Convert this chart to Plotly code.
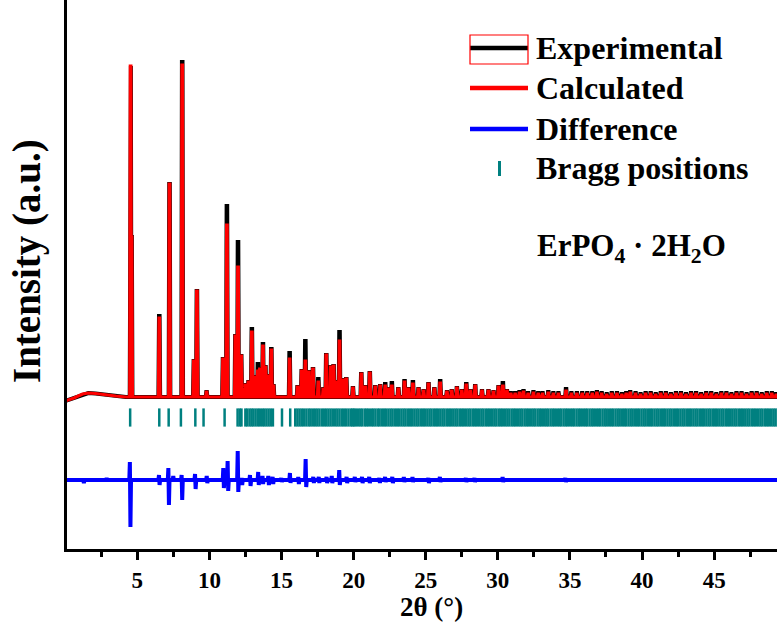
import plotly.graph_objects as go

# ---------------- data ----------------
# resolved reflections: 2theta (deg), observed and calculated heights above background (a.u.)
peak_pos = [4.53, 4.60, 6.52, 7.23, 8.11, 8.92, 9.13, 9.80, 10.94, 11.21, 11.80, 11.98, 12.20, 12.50,
            12.71, 12.94, 13.10, 13.36, 13.50, 13.71, 13.88, 14.05, 14.29, 14.44, 15.56, 16.11, 16.40,
            16.65, 16.90, 17.18, 17.55, 17.90, 18.10, 18.42, 18.61, 18.80, 19.02, 19.30, 19.49, 19.95,
            20.53, 20.80, 21.12, 21.50, 21.84, 22.19, 22.45, 22.65, 23.10, 23.53, 23.80, 24.11, 24.50,
            24.85, 25.19, 25.60, 26.00, 26.47, 26.80, 27.16, 27.50, 27.81, 28.10, 28.43, 28.90, 29.35,
            29.70, 30.05, 30.35, 30.63, 30.90, 31.20, 31.50, 31.78, 32.10, 32.47, 32.80, 33.10, 33.50,
            33.85, 34.20, 34.73, 35.10, 35.48, 35.85, 36.20, 36.55, 36.87, 37.20, 37.55, 37.90, 38.26,
            38.60, 38.90, 39.18, 39.55, 39.90, 40.25, 40.60, 40.95, 41.30, 41.65, 42.00, 42.35, 42.70,
            43.05, 43.40, 43.75, 44.10, 44.45, 44.80, 45.15, 45.50, 45.85, 46.20, 46.55, 46.90, 47.25,
            47.60, 47.95, 48.30, 48.65, 49.00, 49.30]
obs_height = [331, 160, 81, 213, 335, 36, 106, 5, 38, 191, 61, 155, 41, 12,
              15, 68, 20, 33, 28, 53, 30, 21, 48, 11, 44, 10, 26,
              56, 25, 28, 18, 8, 42, 30, 31, 15, 65, 17, 18, 9,
              23, 10, 24, 10, 11, 13, 8, 14, 8, 16, 8, 15, 8,
              6, 13, 8, 16, 5, 6, 9, 6, 13, 6, 11, 6, 6,
              5, 10, 14, 6, 4, 4, 5, 6, 4, 5, 4, 4, 5,
              4, 4, 8, 4, 4, 4, 4, 4, 5, 4, 3, 4, 4,
              3, 4, 5, 4, 3, 4, 4, 3, 4, 4, 3, 4, 4,
              3, 4, 4, 3, 4, 4, 3, 4, 4, 3, 4, 4, 3,
              4, 4, 3, 4, 4, 3]
calc_height = [331, 160, 79, 213, 332, 36, 106, 5, 38, 172, 61, 130, 41, 12,
               15, 65, 20, 26, 28, 51, 30, 21, 47, 11, 38, 10, 26,
               36, 25, 28, 15, 8, 42, 30, 31, 15, 56, 17, 18, 9,
               23, 10, 24, 10, 11, 11, 8, 11, 8, 15, 8, 13, 8,
               6, 13, 8, 14, 5, 6, 9, 6, 12, 6, 11, 6, 6,
               5, 10, 11, 6, 3, 3, 4, 5, 3, 4, 3, 3, 4,
               3, 3, 6, 3, 3, 3, 3, 3, 4, 3, 2, 3, 3,
               2, 3, 4, 3, 2, 3, 3, 2, 3, 3, 2, 3, 3,
               2, 3, 3, 2, 3, 3, 2, 3, 3, 2, 3, 3, 2,
               3, 3, 2, 3, 3, 2]

# low-angle background (2theta, a.u.)
bg_pos = [0.0, 0.6, 1.2, 1.6, 2.1, 2.8, 3.5, 4.2]
bg_val = [-4, -1, 3, 4, 3.5, 2, 1, 0]

# difference curve features: 2theta, upward and downward excursion (a.u.)
diff_pos = [1.27, 2.89, 4.50, 6.52, 7.17, 7.51, 8.09, 9.02, 9.83, 10.98, 11.28, 11.98, 12.25, 12.83,
            13.40, 13.70, 14.10, 14.40, 15.00, 15.60, 16.18, 16.69, 17.22, 17.60, 18.14, 18.50, 19.02,
            19.53, 20.10, 20.60, 21.10, 21.80, 22.20, 22.70, 23.50, 24.10, 25.20, 26.00, 27.80, 28.40,
            30.35, 34.70]
diff_up = [0, 2, 18, 5, 12, 4, 5, 6, 4, 12, 19, 29, 2, 5,
           8, 4, 4, 3, 2, 7, 3, 21, 3, 3, 3, 4, 10,
           3, 3, 3, 3, 2, 3, 3, 3, 3, 2, 3, 2, 2,
           3, 2]
diff_down = [3, 0, 47, 5, 25, 0, 20, 9, 3, 8, 11, 12, 5, 6,
             5, 4, 5, 4, 2, 3, 4, 7, 3, 3, 3, 3, 5,
             3, 2, 3, 3, 3, 2, 3, 2, 2, 3, 2, 2, 2,
             2, 2]

# Bragg reflection positions (2theta, deg)
bragg_pos = [4.50, 6.52, 7.17, 8.02, 9.02, 9.59, 11.05, 11.95, 12.10, 12.22, 12.49, 12.62, 12.78, 12.92,
             13.05, 13.20, 13.36, 13.50, 13.66, 13.80, 13.95, 14.10, 14.25, 14.40, 15.03, 15.60, 15.95,
             16.10, 16.25, 16.40, 16.55, 16.72, 16.88, 17.02, 17.18, 17.33, 17.48, 17.63, 17.80, 17.95,
             18.10, 18.25, 18.40, 18.55, 18.72, 18.87, 19.02, 19.18, 19.33, 19.48, 19.64, 19.80, 19.92,
             20.02, 20.15, 20.31, 20.46, 20.60, 20.77, 20.91, 21.05, 21.22, 21.36, 21.51, 21.67, 21.80,
             21.96, 22.11, 22.25, 22.41, 22.56, 22.70, 22.86, 23.01, 23.15, 23.31, 23.46, 23.60, 23.76,
             23.91, 24.05, 24.21, 24.36, 24.50, 24.66, 24.81, 24.95, 25.11, 25.26, 25.40, 25.56, 25.71,
             25.85, 26.01, 26.16, 26.30, 26.46, 26.61, 26.75, 26.91, 27.06, 27.20, 27.36, 27.51, 27.65,
             27.81, 27.96, 28.10, 28.26, 28.41, 28.55, 28.71, 28.86, 29.00, 29.16, 29.31, 29.45, 29.61,
             29.76, 29.90, 30.06, 30.21, 30.35, 30.51, 30.66, 30.80, 30.96, 31.11, 31.25, 31.41, 31.56,
             31.70, 31.86, 32.01, 32.15, 32.31, 32.46, 32.60, 32.76, 32.91, 33.05, 33.21, 33.36, 33.50,
             33.66, 33.81, 33.95, 34.11, 34.26, 34.40, 34.56, 34.71, 34.85, 35.01, 35.16, 35.30, 35.46,
             35.61, 35.75, 35.91, 36.06, 36.20, 36.36, 36.51, 36.65, 36.81, 36.96, 37.10, 37.26, 37.41,
             37.55, 37.71, 37.86, 38.00, 38.16, 38.31, 38.45, 38.61, 38.76, 38.90, 39.06, 39.21, 39.35,
             39.51, 39.66, 39.80, 39.96, 40.11, 40.25, 40.41, 40.56, 40.70, 40.86, 41.01, 41.15, 41.31,
             41.46, 41.60, 41.76, 41.91, 42.05, 42.21, 42.36, 42.50, 42.66, 42.81, 42.95, 43.11, 43.26,
             43.40, 43.56, 43.71, 43.85, 44.01, 44.16, 44.30, 44.46, 44.61, 44.75, 44.91, 45.06, 45.20,
             45.36, 45.51, 45.65, 45.81, 45.96, 46.10, 46.26, 46.41, 46.55, 46.71, 46.86, 47.00, 47.16,
             47.31, 47.45, 47.61, 47.76, 47.90, 48.06, 48.21, 48.35, 48.51, 48.66, 48.80, 48.96, 49.11,
             49.25, 49.40]

x_ticks = [5, 10, 15, 20, 25, 30, 35, 40, 45]

# ---------------- layout constants ----------------
DIFF_OFFSET = -83      # vertical offset of the difference curve
BRAGG_LEVEL = -20.5    # vertical level of the Bragg markers
X_END = 49.6


def pattern(heights, hw=0.06, top=0.02):
    xs = list(bg_pos)
    ys = list(bg_val)
    for p, h in zip(peak_pos, heights):
        xs += [p - hw, p - top, p + top, p + hw]
        ys += [0, h, h, 0]
    xs.append(X_END)
    ys.append(0)
    return xs, ys


def difference():
    xs, ys = [0.0], [DIFF_OFFSET]
    for p, u, d in zip(diff_pos, diff_up, diff_down):
        xs += [p - 0.06, p - 0.02, p + 0.02, p + 0.06]
        ys += [DIFF_OFFSET, DIFF_OFFSET + u, DIFF_OFFSET - d, DIFF_OFFSET]
    xs.append(X_END)
    ys.append(DIFF_OFFSET)
    return xs, ys


ox, oy = pattern(obs_height)
cx, cy = pattern(calc_height)
dx, dy = difference()

FONT = "Liberation Serif"
BLACK, RED, BLUE, TEAL = "#000000", "#FF0000", "#0000FF", "#008080"

fig = go.Figure()
fig.add_trace(go.Scatter(x=ox, y=oy, mode="lines", name="Experimental",
                         line=dict(color=BLACK, width=4), showlegend=False))
fig.add_trace(go.Scatter(x=cx, y=cy, mode="lines", name="Calculated",
                         line=dict(color=RED, width=3.2), showlegend=False))
fig.add_trace(go.Scatter(x=dx, y=dy, mode="lines", name="Difference",
                         line=dict(color=BLUE, width=4), showlegend=False))
fig.add_trace(go.Scatter(x=bragg_pos, y=[BRAGG_LEVEL] * len(bragg_pos), mode="markers",
                         name="Bragg positions", showlegend=False,
                         marker=dict(symbol="line-ns", size=13, color=TEAL,
                                     line=dict(color=TEAL, width=2.5))))

W, H = 777, 628
ML, MR, MT, MB = 67, 0, 0, 79
PW, PH = W - ML - MR, H - MT - MB


def fx(px):
    return (px - ML) / PW


def fy(py):
    return (MT + PH - py) / PH


# manual legend
legend_rows = [("Experimental", 48), ("Calculated", 88), ("Difference", 129), ("Bragg positions", 168)]
legend_colors = [BLACK, RED, BLUE]
shapes = []
annotations = []
for (label, yc), col in zip(legend_rows[:3], legend_colors):
    shapes.append(dict(type="line", xref="paper", yref="paper", x0=fx(470), x1=fx(528),
                       y0=fy(yc), y1=fy(yc), line=dict(color=col, width=4.5)))
shapes.append(dict(type="line", xref="paper", yref="paper", x0=fx(499.5), x1=fx(499.5),
                   y0=fy(161), y1=fy(176), line=dict(color=TEAL, width=3)))
shapes.append(dict(type="rect", xref="paper", yref="paper", x0=fx(470), x1=fx(528),
                   y0=fy(64), y1=fy(35), line=dict(color=RED, width=1.2)))
for label, yc in legend_rows:
    annotations.append(dict(text=label, xref="paper", yref="paper", x=fx(534), y=fy(yc),
                            xanchor="left", yanchor="middle", showarrow=False,
                            font=dict(family=FONT, size=32, color=BLACK, weight="bold")))
annotations.append(dict(text="ErPO<sub>4</sub> · 2H<sub>2</sub>O", xref="paper", yref="paper",
                        x=fx(535), y=fy(248), xanchor="left", yanchor="middle", showarrow=False,
                        font=dict(family=FONT, size=31, color=BLACK, weight="bold")))
# axis titles (placed to match the cropped original)
annotations.append(dict(text="Intensity (a.u.)", xref="paper", yref="paper", x=fx(27), y=fy(261),
                        xanchor="center", yanchor="middle", textangle=-90, showarrow=False,
                        font=dict(family=FONT, size=39, color=BLACK, weight="bold")))
annotations.append(dict(text="2θ (°)", xref="paper", yref="paper", x=fx(431), y=fy(607),
                        xanchor="center", yanchor="middle", showarrow=False,
                        font=dict(family=FONT, size=27, color=BLACK, weight="bold")))

fig.update_layout(
    width=W, height=H,
    margin=dict(l=ML, r=MR, t=MT, b=MB, autoexpand=False),
    paper_bgcolor="white", plot_bgcolor="white",
    shapes=shapes, annotations=annotations,
    showlegend=False,
    xaxis=dict(range=[0.12, 49.36], tickmode="array", tickvals=x_ticks, automargin=False,
               ticks="outside", ticklen=8, tickwidth=3, tickcolor=BLACK,
               minor=dict(dtick=2.5, tick0=0, ticks="outside", ticklen=5, tickwidth=3, tickcolor=BLACK),
               showline=True, linewidth=3, linecolor=BLACK, showgrid=False, zeroline=False,
               tickfont=dict(family=FONT, size=23, color=BLACK, weight="bold")),
    yaxis=dict(range=[-152, 397], showticklabels=False, ticks="", showline=True, linewidth=3,
               linecolor=BLACK, showgrid=False, zeroline=False, automargin=False),
)

# remove the browser's default page margin so the 777x628 figure fills the window exactly
fig.write_html("out.html", config={"displayModeBar": False},
               post_script="document.body.style.margin='0px';")
